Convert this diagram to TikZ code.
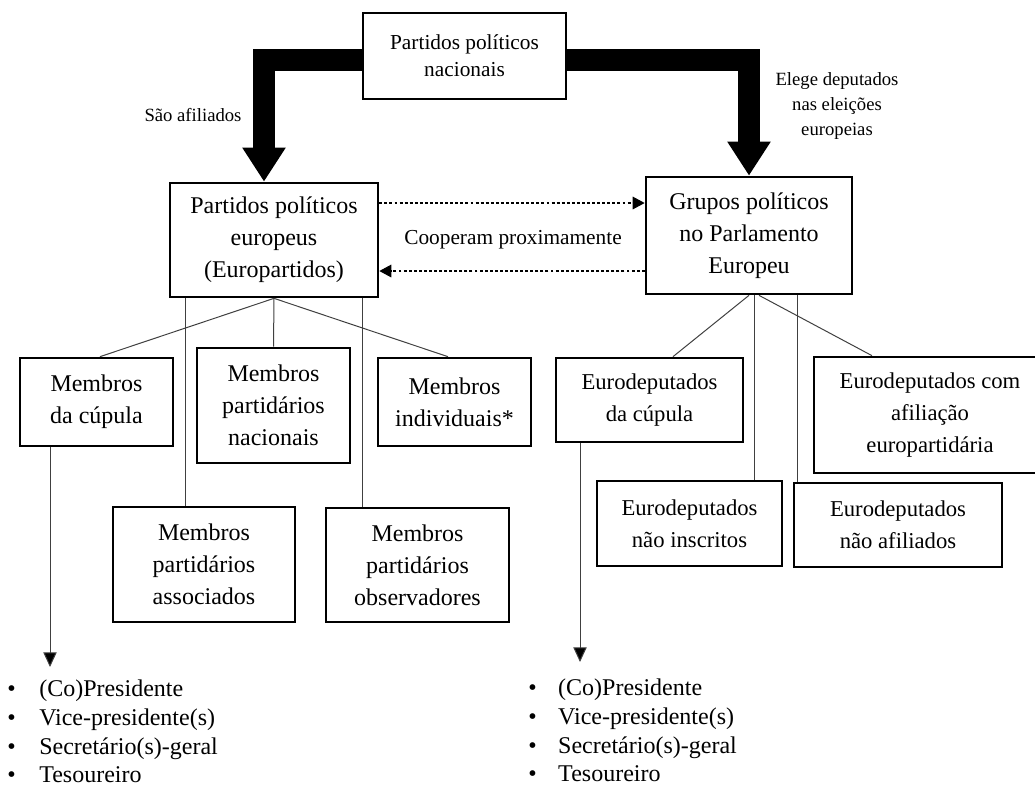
\documentclass[tikz,border=0pt]{standalone}
\usepackage{fontspec}
\setmainfont{Liberation Serif}
\usetikzlibrary{arrows.meta, calc, positioning}

\newcommand{\itemrow}[2][24pt]{\makebox[#1][l]{\textbullet}#2}

\begin{document}
\begin{tikzpicture}[line join=miter,x=0.75pt,y=-0.75pt,
  box/.style={draw, line width=2pt, align=center, inner sep=2pt, font=\fontsize{18}{24}\selectfont},
  eubox/.style={box, font=\fontsize{17}{24}\selectfont},
  bigarrow/.style={line width=16.5pt, -{Triangle[length=25.5pt,width=30.75pt]}},
  dotarrow/.style={line width=0.8pt, dash pattern=on 2.2pt off 1.6pt, -{Triangle[length=9pt,width=9.5pt]}},
  link/.style={line width=0.75pt, black!75},
  downarrow/.style={link, -{Triangle[length=11pt,width=10pt,fill=black]}},
  lbl/.style={align=center, font=\fontsize{14}{19}\selectfont},
  blist/.style={align=left, inner sep=0pt, anchor=north west, font=\fontsize{18}{21.5}\selectfont}]

\clip (0,0) rectangle (1035,794);

% --- caixas principais ---
\node[box, font=\fontsize{16}{20}\selectfont, minimum width=152.25pt, minimum height=64.5pt] (T) at (464.5,56) {Partidos políticos\\nacionais};
\node[box, minimum width=156pt, minimum height=85.5pt] (E) at (274,240) {Partidos políticos\\europeus\\(Europartidos)};
\node[box, minimum width=154.5pt, minimum height=87.75pt] (G) at (749,235.5) {Grupos políticos\\no Parlamento\\Europeu};

% --- membros dos europartidos ---
\node[box, minimum width=114.75pt, minimum height=66pt] (C1) at (96.5,402) {Membros\\da cúpula};
\node[box, minimum width=114.75pt, minimum height=86.25pt] (N) at (273.5,405.5) {Membros\\partidários\\nacionais};
\node[box, minimum width=114.75pt, minimum height=66pt] (I) at (454.5,402) {Membros\\individuais*};
\node[box, minimum width=136.5pt, minimum height=86.25pt] (A) at (204,564.5) {Membros\\partidários\\associados};
\node[box, minimum width=137.25pt, minimum height=85.5pt] (O) at (417.5,565) {Membros\\partidários\\observadores};

% --- eurodeputados ---
\node[eubox, minimum width=140.25pt, minimum height=63pt] (C2) at (649.5,400) {Eurodeputados\\da cúpula};
\node[eubox, minimum width=138.75pt, minimum height=63.75pt] (NI) at (689.5,523.5) {Eurodeputados\\não inscritos};
\node[eubox, minimum width=156pt, minimum height=63pt] (NA) at (898,525) {Eurodeputados\\não afiliados};
\node[eubox, minimum width=174pt, minimum height=87pt] (CA) at (930,415) {Eurodeputados com\\afiliação\\europartidária};

% --- setas grossas ---
\draw[bigarrow] ([yshift=-3pt]T.west) -| ([xshift=-7.5pt]E.north);
\draw[bigarrow] ([yshift=-3pt]T.east) -| (G.north);
\node[lbl] (afil) at (193,115) {São afiliados};
\node[lbl] (elege) at (837,106) {Elege deputados\\nas eleições\\europeias};

% --- cooperação ---
\draw[dotarrow] ([yshift=27.75pt]E.east) -- ([yshift=27.75pt]E.east -| G.west);
\draw[dotarrow] ([yshift=-23.25pt]E.east -| G.west) -- ([yshift=-23.25pt]E.east);
\node[font=\fontsize{16}{19}\selectfont] (coop) at (513,240) {Cooperam proximamente};

% --- ligações ---
\draw[link] (E.south) -- ([xshift=2.6pt]C1.north);
\draw[link] (E.south) -- (N.north);
\draw[link] (E.south) -- ([xshift=-4.9pt]I.north);
\draw[link] ([xshift=-14.25pt]A.north) -- ([xshift=-14.25pt]A.north |- E.south);
\draw[link] ([xshift=-41.6pt]O.north) -- ([xshift=-41.6pt]O.north |- E.south);

\draw[link] (G.south) -- ([xshift=17.6pt]C2.north);
\draw[link] ([xshift=48.4pt]NI.north) -- ([xshift=48.4pt]NI.north |- G.south);
\draw[link] ([xshift=-75.75pt]NA.north) -- ([xshift=-75.75pt]NA.north |- G.south);
\draw[link] ([xshift=7.5pt]G.south) -- ([xshift=-43.5pt]CA.north);

% --- cúpulas ---
\coordinate (c1end) at (50,667);
\coordinate (c2end) at (580,662);
\draw[downarrow] (C1.south -| c1end) -- (c1end);
\draw[downarrow] (C2.south -| c2end) -- (c2end);

\node[blist] (L1) at (7,680) {\itemrow{(Co)Presidente}\\\itemrow{Vice-presidente(s)}\\\itemrow{Secretário(s)-geral}\\\itemrow{Tesoureiro}};
\node[blist] (L2) at (528,679) {\itemrow[22.5pt]{(Co)Presidente}\\\itemrow[22.5pt]{Vice-presidente(s)}\\\itemrow[22.5pt]{Secretário(s)-geral}\\\itemrow[22.5pt]{Tesoureiro}};

\end{tikzpicture}
\end{document}
